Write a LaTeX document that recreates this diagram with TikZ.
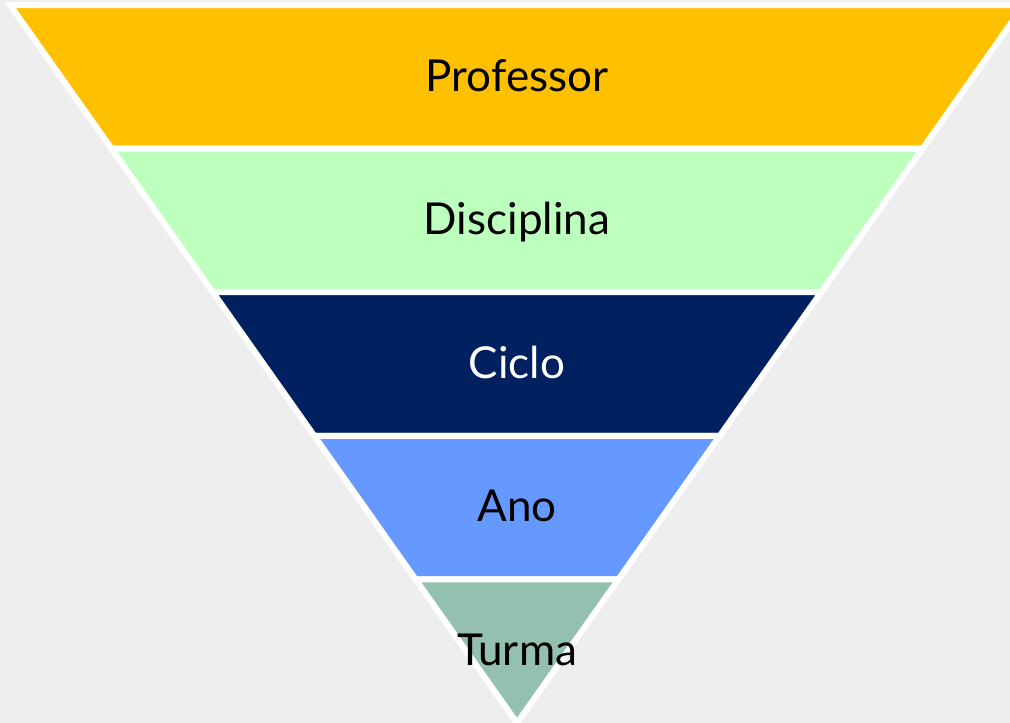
\documentclass[tikz,border=0pt]{standalone}
\usepackage{fontspec}
\setmainfont{Lato}
\definecolor{bgGray}{HTML}{EEEEEE}
\definecolor{profOrange}{HTML}{FFC000}
\definecolor{discGreen}{HTML}{BDFFBD}
\definecolor{cicloNavy}{HTML}{002060}
\definecolor{anoBlue}{HTML}{6699FF}
\definecolor{turmaTeal}{HTML}{93C0AF}
\tikzset{
  band/.style={draw=white,line width=6pt,line join=miter},
  label/.style={anchor=base,font=\fontsize{44}{50}\selectfont}
}
\begin{document}
\begin{tikzpicture}[x=1pt,y=-1pt]
    \useasboundingbox (0,0) rectangle (1010,723);
    \clip (0,0) rectangle (1010,723);
    \fill[bgGray] (0,0) rectangle (1010,723);
    \foreach \t/\col/\tcol/\txt/\nm in {5/profOrange/black/Professor/prof,
        148.6/discGreen/black/Disciplina/disc,
        292.2/cicloNavy/white/Ciclo/ciclo,
        435.8/anoBlue/black/Ano/ano}
    {
      \pgfmathsetmacro{\b}{\t+143.6}
      \pgfmathsetmacro{\wt}{0.706*(723-\t)}
      \pgfmathsetmacro{\wb}{0.706*(723-\b)}
      \filldraw[band,fill=\col] (517-\wt,\t) -- (517+\wt,\t) -- (517+\wb,\b) -- (517-\wb,\b) -- cycle;
      \node[label,text=\tcol] (\nm) at (517,\t+86) {\txt};
    }
    \filldraw[band,fill=turmaTeal] (517-0.706*143.6,579.4) -- (517+0.706*143.6,579.4) -- (517,723) -- cycle;
    \node[label] (turma) at (517,665.4) {Turma};
\end{tikzpicture}
\end{document}
